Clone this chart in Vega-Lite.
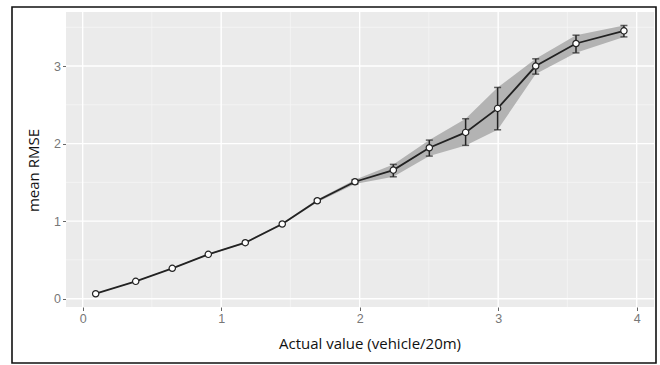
{
  "$schema": "https://vega.github.io/schema/vega-lite/v6.json",
  "width": 644,
  "height": 356,
  "autosize": "none",
  "padding": {"left": 12, "top": 7, "right": 4, "bottom": 2},
  "background": "white",
  "config": {
    "view": {"stroke": "#111111", "strokeWidth": 1.6},
    "axis": {
      "grid": false,
      "domain": false,
      "tickColor": "#666666",
      "tickSize": 3.5,
      "tickWidth": 1,
      "format": "d",
      "labelFont": "Liberation Sans Narrow, Liberation Sans, sans-serif",
      "labelFontSize": 12.5,
      "labelColor": "#777777",
      "labelPadding": 2,
      "titleFont": "Open Sans, sans-serif",
      "titleFontSize": 15,
      "titleFontWeight": "normal",
      "titleColor": "#111111"
    }
  },
  "datasets": {
    "pts": [
      {"x": 0.094, "y": 0.064, "lo": 0.060, "hi": 0.068},
      {"x": 0.383, "y": 0.224, "lo": 0.219, "hi": 0.229},
      {"x": 0.647, "y": 0.392, "lo": 0.386, "hi": 0.398},
      {"x": 0.907, "y": 0.572, "lo": 0.565, "hi": 0.580},
      {"x": 1.174, "y": 0.722, "lo": 0.713, "hi": 0.731},
      {"x": 1.441, "y": 0.963, "lo": 0.952, "hi": 0.975},
      {"x": 1.694, "y": 1.263, "lo": 1.245, "hi": 1.280},
      {"x": 1.966, "y": 1.508, "lo": 1.480, "hi": 1.535},
      {"x": 2.243, "y": 1.658, "lo": 1.572, "hi": 1.732},
      {"x": 2.503, "y": 1.946, "lo": 1.839, "hi": 2.045},
      {"x": 2.765, "y": 2.144, "lo": 1.977, "hi": 2.320},
      {"x": 2.996, "y": 2.454, "lo": 2.178, "hi": 2.724},
      {"x": 3.271, "y": 3.000, "lo": 2.896, "hi": 3.093},
      {"x": 3.562, "y": 3.291, "lo": 3.170, "hi": 3.398},
      {"x": 3.908, "y": 3.454, "lo": 3.376, "hi": 3.523}
    ]
  },
  "layer": [
    {
      "data": {"values": [{"x0": -0.1204, "x1": 4.1251, "y0": -0.107, "y1": 3.697}]},
      "mark": {"type": "rect", "fill": "#ebebeb"},
      "encoding": {
        "x": {
          "field": "x0", "type": "quantitative",
          "scale": {"domain": [-0.5102, 4.1396], "nice": false, "zero": false},
          "axis": {"orient": "bottom", "offset": -56, "values": [0, 1, 2, 3, 4], "title": "Actual value (vehicle/20m)", "titleX": 357.5, "titleY": 36, "titleBaseline": "middle", "titleAnchor": "middle"}
        },
        "x2": {"field": "x1"},
        "y": {
          "field": "y0", "type": "quantitative",
          "scale": {"domain": [-0.8292, 3.7614], "nice": false, "zero": false},
          "axis": {"orient": "left", "offset": -54, "values": [0, 1, 2, 3], "title": "mean RMSE", "titleX": -33, "titleY": 163, "titleBaseline": "middle", "titleAngle": -90, "titleAnchor": "middle"}
        },
        "y2": {"field": "y1"}
      }
    },
    {
      "data": {"values": [{"g": 0.5}, {"g": 1.5}, {"g": 2.5}, {"g": 3.5}]},
      "mark": {"type": "rule", "color": "#f7f7f7", "strokeWidth": 0.7},
      "encoding": {
        "x": {"field": "g", "type": "quantitative"},
        "y": {"datum": -0.107, "type": "quantitative"},
        "y2": {"datum": 3.697}
      }
    },
    {
      "data": {"values": [{"g": 0.5}, {"g": 1.5}, {"g": 2.5}, {"g": 3.5}]},
      "mark": {"type": "rule", "color": "#f7f7f7", "strokeWidth": 0.7},
      "encoding": {
        "y": {"field": "g", "type": "quantitative"},
        "x": {"datum": -0.1204, "type": "quantitative"},
        "x2": {"datum": 4.1251}
      }
    },
    {
      "data": {"values": [{"g": 0}, {"g": 1}, {"g": 2}, {"g": 3}, {"g": 4}]},
      "mark": {"type": "rule", "color": "#ffffff", "strokeWidth": 1.4},
      "encoding": {
        "x": {"field": "g", "type": "quantitative"},
        "y": {"datum": -0.107, "type": "quantitative"},
        "y2": {"datum": 3.697}
      }
    },
    {
      "data": {"values": [{"g": 0}, {"g": 1}, {"g": 2}, {"g": 3}]},
      "mark": {"type": "rule", "color": "#ffffff", "strokeWidth": 1.4},
      "encoding": {
        "y": {"field": "g", "type": "quantitative"},
        "x": {"datum": -0.1204, "type": "quantitative"},
        "x2": {"datum": 4.1251}
      }
    },
    {
      "data": {"name": "pts"},
      "mark": {"type": "area", "color": "#b3b3b3", "opacity": 1},
      "encoding": {
        "x": {"field": "x", "type": "quantitative"},
        "y": {"field": "lo", "type": "quantitative"},
        "y2": {"field": "hi"}
      }
    },
    {
      "data": {"name": "pts"},
      "mark": {"type": "line", "color": "#222222", "strokeWidth": 1.8},
      "encoding": {
        "x": {"field": "x", "type": "quantitative"},
        "y": {"field": "y", "type": "quantitative"}
      }
    },
    {
      "data": {"name": "pts"},
      "transform": [{"filter": "datum.x > 1.6"}],
      "mark": {"type": "rule", "color": "#222222", "strokeWidth": 1.5},
      "encoding": {
        "x": {"field": "x", "type": "quantitative"},
        "y": {"field": "lo", "type": "quantitative"},
        "y2": {"field": "hi"}
      }
    },
    {
      "data": {"name": "pts"},
      "transform": [{"filter": "datum.x > 1.6"}, {"fold": ["lo", "hi"], "as": ["k", "v"]}],
      "mark": {"type": "tick", "orient": "horizontal", "color": "#222222", "size": 7, "thickness": 1.5},
      "encoding": {
        "x": {"field": "x", "type": "quantitative"},
        "y": {"field": "v", "type": "quantitative"}
      }
    },
    {
      "data": {"name": "pts"},
      "mark": {"type": "point", "shape": "circle", "filled": true, "fill": "#ffffff", "stroke": "#222222", "strokeWidth": 1.2, "size": 40, "opacity": 1},
      "encoding": {
        "x": {"field": "x", "type": "quantitative"},
        "y": {"field": "y", "type": "quantitative"}
      }
    }
  ]
}
